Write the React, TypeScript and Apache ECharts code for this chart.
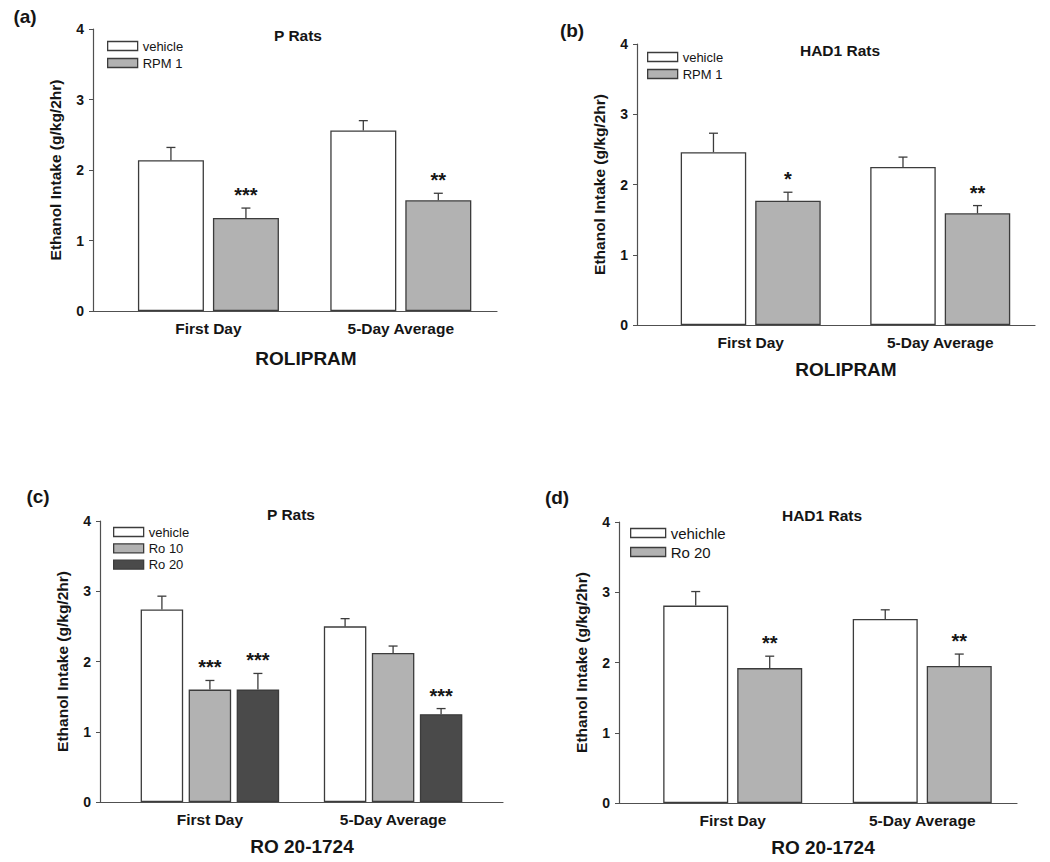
import React, { useEffect, useRef } from "react";
import * as echarts from "echarts";

// ---------- data ----------
const categories = ["First Day", "5-Day Average"];
const catPos = [1, 3];

// (a) P Rats, Rolipram
const aVehicle = [2.14, 2.56];
const aVehicleSem = [0.18, 0.14];
const aRpm = [1.32, 1.57];
const aRpmSem = [0.14, 0.1];
const aRpmStars = ["***", "**"];

// (b) HAD1 Rats, Rolipram
const bVehicle = [2.46, 2.25];
const bVehicleSem = [0.27, 0.14];
const bRpm = [1.77, 1.59];
const bRpmSem = [0.12, 0.11];
const bRpmStars = ["*", "**"];

// (c) P Rats, Ro 20-1724
const cVehicle = [2.74, 2.5];
const cVehicleSem = [0.19, 0.11];
const cRo10 = [1.6, 2.12];
const cRo10Sem = [0.13, 0.1];
const cRo10Stars = ["***", ""];
const cRo20 = [1.6, 1.25];
const cRo20Sem = [0.23, 0.08];
const cRo20Stars = ["***", "***"];

// (d) HAD1 Rats, Ro 20-1724
const dVehicle = [2.81, 2.62];
const dVehicleSem = [0.2, 0.13];
const dRo20 = [1.92, 1.95];
const dRo20Sem = [0.17, 0.17];
const dRo20Stars = ["**", "**"];

const yTicks = { min: 0, max: 4, interval: 1 };
const noStars = ["", ""];

// ---------- styles ----------
const FONT = 'Arial, "Liberation Sans", Helvetica, sans-serif';
const WHITE = "#ffffff";
const LIGHT = "#b2b2b2";
const DARK = "#4a4a4a";
const EDGE = "#3c3c3c";
const AXIS = "#505050";
const TEXT = "#151515";

type Group = { name: string; values: number[]; sem: number[]; stars: string[]; color: string };
type Panel = {
  letter: string; title: string; xlabel: string;
  grid: { left: number; top: number; width: number; height: number };
  xMax: number; barWidth: number; gap: number;
  groups: Group[];
  legend: { left: number; top: number; fontSize: number; itemWidth: number; itemHeight: number; lineHeight: number; itemGap: number };
  titlePos: [number, number]; letterPos: [number, number]; xlabelPos: [number, number];
};

const panels: Panel[] = [
  {
    letter: "(a)", title: "P Rats", xlabel: "ROLIPRAM",
    grid: { left: 93, top: 29, width: 404, height: 282 },
    xMax: 4.0, barWidth: 66, gap: 9,
    groups: [
      { name: "vehicle", values: aVehicle, sem: aVehicleSem, stars: noStars, color: WHITE },
      { name: "RPM 1", values: aRpm, sem: aRpmSem, stars: aRpmStars, color: LIGHT },
    ],
    legend: { left: 107, top: 39, fontSize: 13, itemWidth: 30, itemHeight: 9, lineHeight: 14, itemGap: 3 },
    titlePos: [298, 35], letterPos: [25, 16], xlabelPos: [306, 358],
  },
  {
    letter: "(b)", title: "HAD1 Rats", xlabel: "ROLIPRAM",
    grid: { left: 637, top: 44, width: 398, height: 281 },
    xMax: 4.0, barWidth: 65.5, gap: 9,
    groups: [
      { name: "vehicle", values: bVehicle, sem: bVehicleSem, stars: noStars, color: WHITE },
      { name: "RPM 1", values: bRpm, sem: bRpmSem, stars: bRpmStars, color: LIGHT },
    ],
    legend: { left: 647, top: 50, fontSize: 13, itemWidth: 30, itemHeight: 9, lineHeight: 14, itemGap: 3 },
    titlePos: [840, 50], letterPos: [572, 30], xlabelPos: [846, 369],
  },
  {
    letter: "(c)", title: "P Rats", xlabel: "RO 20-1724",
    grid: { left: 100, top: 521, width: 403, height: 281 },
    xMax: 4.2, barWidth: 42.5, gap: 5.5,
    groups: [
      { name: "vehicle", values: cVehicle, sem: cVehicleSem, stars: noStars, color: WHITE },
      { name: "Ro 10", values: cRo10, sem: cRo10Sem, stars: cRo10Stars, color: LIGHT },
      { name: "Ro 20", values: cRo20, sem: cRo20Sem, stars: cRo20Stars, color: DARK },
    ],
    legend: { left: 113, top: 525, fontSize: 13, itemWidth: 30, itemHeight: 9, lineHeight: 14, itemGap: 2.3 },
    titlePos: [291, 514], letterPos: [38, 496], xlabelPos: [302, 846],
  },
  {
    letter: "(d)", title: "HAD1 Rats", xlabel: "RO 20-1724",
    grid: { left: 619, top: 522, width: 398, height: 281 },
    xMax: 4.0, barWidth: 65, gap: 9,
    groups: [
      { name: "vehichle", values: dVehicle, sem: dVehicleSem, stars: noStars, color: WHITE },
      { name: "Ro 20", values: dRo20, sem: dRo20Sem, stars: dRo20Stars, color: LIGHT },
    ],
    legend: { left: 630, top: 525, fontSize: 15, itemWidth: 35, itemHeight: 9, lineHeight: 16, itemGap: 3 },
    titlePos: [822, 515], letterPos: [557, 497], xlabelPos: [823, 847],
  },
];

function buildOption() {
  const grid: any[] = [];
  const xAxis: any[] = [];
  const yAxis: any[] = [];
  const series: any[] = [];
  const legend: any[] = [];
  const graphic: any[] = [];

  panels.forEach((p, pi) => {
    grid.push({ left: p.grid.left, top: p.grid.top, width: p.grid.width, height: p.grid.height, containLabel: false });
    xAxis.push({
      type: "value", gridIndex: pi, min: -0.2, max: p.xMax,
      axisLine: { show: true, onZero: false, lineStyle: { color: AXIS, width: 1.2 } },
      axisTick: { show: false },
      splitLine: { show: false },
      axisLabel: {
        customValues: catPos,
        formatter: (v: number) => categories[catPos.indexOf(v)] ?? "",
        fontFamily: FONT, fontSize: 15.5, fontWeight: "bold", color: TEXT, margin: 9,
      },
    });
    yAxis.push({
      type: "value", gridIndex: pi, min: yTicks.min, max: yTicks.max, interval: yTicks.interval,
      name: "Ethanol Intake (g/kg/2hr)", nameLocation: "middle", nameGap: 30,
      nameTextStyle: { fontFamily: FONT, fontSize: 15.5, fontWeight: "bold", color: TEXT },
      axisLine: { show: true, onZero: false, lineStyle: { color: AXIS, width: 1.2 } },
      axisTick: { show: true, inside: false, length: 4, lineStyle: { color: AXIS } },
      splitLine: { show: false },
      axisLabel: { fontFamily: FONT, fontSize: 14, fontWeight: "bold", color: TEXT, margin: 9 },
    });

    const n = p.groups.length;
    const step = p.barWidth + p.gap;
    p.groups.forEach((g, gi) => {
      series.push({
        type: "bar", name: g.name, xAxisIndex: pi, yAxisIndex: pi,
        barWidth: p.barWidth, barGap: (p.gap / p.barWidth) * 100 + "%",
        itemStyle: { color: g.color, borderColor: EDGE, borderWidth: 1.3 },
        data: g.values.map((v, k) => [catPos[k], v]),
        z: 2,
      });
      const offset = (gi - (n - 1) / 2) * step;
      series.push({
        type: "custom", name: g.name + " SEM", xAxisIndex: pi, yAxisIndex: pi, z: 5,
        encode: { x: 0, y: [1, 2] },
        data: g.values.map((v, k) => [catPos[k], v, v + g.sem[k]]),
        renderItem: (params: any, api: any) => {
          const x = api.value(0), v = api.value(1), e = api.value(2);
          const b = api.coord([x, v]);
          const t = api.coord([x, e]);
          const cx = b[0] + offset;
          const star = g.stars[params.dataIndex] || "";
          const children: any[] = [
            { type: "line", shape: { x1: cx, y1: b[1], x2: cx, y2: t[1] }, style: { stroke: EDGE, lineWidth: 1.3 } },
            { type: "line", shape: { x1: cx - 4.5, y1: t[1], x2: cx + 4.5, y2: t[1] }, style: { stroke: EDGE, lineWidth: 1.3 } },
          ];
          if (star) {
            children.push({
              type: "text", x: cx, y: t[1] - 13,
              style: { text: star, align: "center", verticalAlign: "middle", fontFamily: FONT, fontSize: 20, fontWeight: "bold", fill: TEXT },
            });
          }
          return { type: "group", children };
        },
      });
    });

    legend.push({
      orient: "vertical", left: p.legend.left, top: p.legend.top, padding: 0,
      itemWidth: p.legend.itemWidth, itemHeight: p.legend.itemHeight, itemGap: p.legend.itemGap,
      selectedMode: false,
      textStyle: { fontFamily: FONT, fontSize: p.legend.fontSize, color: TEXT, lineHeight: p.legend.lineHeight },
      data: p.groups.map((g) => ({
        name: g.name, icon: "rect",
        itemStyle: { color: g.color, borderColor: EDGE, borderWidth: 1.3 },
      })),
    });

    graphic.push(
      { type: "text", x: p.titlePos[0], y: p.titlePos[1], style: { text: p.title, align: "center", verticalAlign: "middle", fontFamily: FONT, fontSize: 15.5, fontWeight: "bold", fill: TEXT } },
      { type: "text", x: p.letterPos[0], y: p.letterPos[1], style: { text: p.letter, align: "center", verticalAlign: "middle", fontFamily: FONT, fontSize: 19, fontWeight: "bold", fill: TEXT } },
      { type: "text", x: p.xlabelPos[0], y: p.xlabelPos[1], style: { text: p.xlabel, align: "center", verticalAlign: "middle", fontFamily: FONT, fontSize: 19, fontWeight: "bold", fill: TEXT } },
    );
  });

  return {
    animation: false,
    backgroundColor: "#ffffff",
    grid, xAxis, yAxis, series, legend, graphic,
  };
}

export default function App() {
  const ref = useRef<HTMLDivElement>(null);
  useEffect(() => {
    if (!ref.current) return;
    const chart = echarts.init(ref.current, null, { renderer: "svg" });
    chart.setOption(buildOption() as any);
    return () => chart.dispose();
  }, []);
  return (
    <div
      ref={ref}
      style={{ position: "fixed", left: 0, top: 0, width: 1050, height: 862, background: "#fff" }}
    />
  );
}
